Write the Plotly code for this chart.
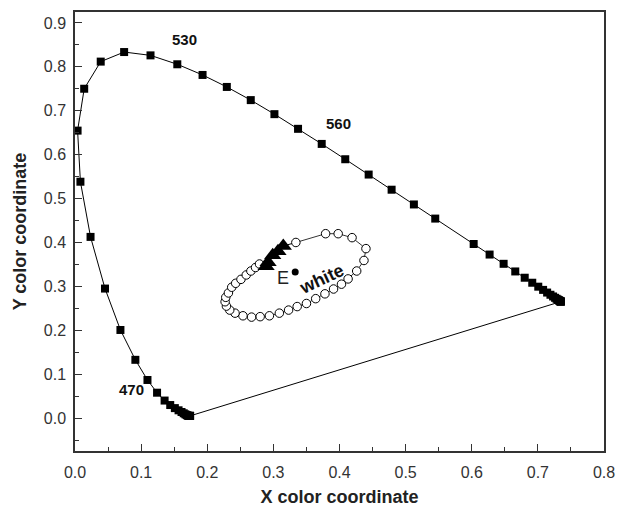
import plotly.graph_objects as go

# Spectral locus (CIE 1931), 380-700 nm in 5 nm steps (590 nm not shown)
locus_x = [0.1741, 0.1740, 0.1738, 0.1736, 0.1733, 0.1730, 0.1726, 0.1721, 0.1714,
           0.1703, 0.1689, 0.1669, 0.1644, 0.1611, 0.1566, 0.1510, 0.1440, 0.1355,
           0.1241, 0.1096, 0.0913, 0.0687, 0.0454, 0.0235, 0.0082, 0.0039, 0.0139,
           0.0389, 0.0743, 0.1142, 0.1547, 0.1929, 0.2296, 0.2658, 0.3016, 0.3373,
           0.3731, 0.4087, 0.4441, 0.4788, 0.5125, 0.5448, 0.6029, 0.6270,
           0.6482, 0.6658, 0.6801, 0.6915, 0.7006, 0.7079, 0.7140, 0.7190, 0.7230,
           0.7260, 0.7283, 0.7300, 0.7311, 0.7320, 0.7327, 0.7334, 0.7340, 0.7344,
           0.7346, 0.7347]
locus_y = [0.0050, 0.0050, 0.0049, 0.0049, 0.0048, 0.0048, 0.0048, 0.0048, 0.0051,
           0.0058, 0.0069, 0.0086, 0.0109, 0.0138, 0.0177, 0.0227, 0.0297, 0.0399,
           0.0578, 0.0868, 0.1327, 0.2007, 0.2950, 0.4127, 0.5384, 0.6548, 0.7502,
           0.8120, 0.8338, 0.8262, 0.8059, 0.7816, 0.7543, 0.7243, 0.6923, 0.6589,
           0.6245, 0.5896, 0.5547, 0.5202, 0.4866, 0.4544, 0.3965, 0.3725,
           0.3514, 0.3340, 0.3197, 0.3083, 0.2993, 0.2920, 0.2859, 0.2809, 0.2770,
           0.2740, 0.2717, 0.2700, 0.2689, 0.2680, 0.2673, 0.2666, 0.2660, 0.2656,
           0.2654, 0.2653]

# Measured chromaticity (open circles)
circ_x = [0.334, 0.379, 0.398, 0.419, 0.440, 0.437, 0.426, 0.413, 0.403, 0.391,
          0.378, 0.364, 0.350, 0.336, 0.323, 0.309, 0.294, 0.280, 0.267, 0.254,
          0.242, 0.234, 0.229, 0.227, 0.228, 0.232, 0.237, 0.243, 0.251, 0.259,
          0.266, 0.273, 0.279]
circ_y = [0.400, 0.420, 0.420, 0.411, 0.386, 0.359, 0.335, 0.317, 0.305, 0.294,
          0.283, 0.272, 0.261, 0.254, 0.246, 0.239, 0.233, 0.231, 0.230, 0.233,
          0.239, 0.246, 0.255, 0.265, 0.275, 0.285, 0.298, 0.307, 0.316, 0.326,
          0.335, 0.343, 0.351]

# Filled triangles
tri_x = [0.289, 0.292, 0.299, 0.307, 0.315]
tri_y = [0.346, 0.355, 0.371, 0.380, 0.392]

# Equal-energy white point
e_x = [0.333]
e_y = [0.333]

labels = ["530", "560", "470"]
label_x = [0.166, 0.398, 0.086]
label_y = [0.862, 0.672, 0.066]

fig = go.Figure()

# spectral locus
fig.add_trace(go.Scatter(x=locus_x, y=locus_y, mode="lines+markers",
                         line=dict(color="black", width=1),
                         marker=dict(symbol="square", size=8, color="black"),
                         showlegend=False))
# line of purples
fig.add_trace(go.Scatter(x=[locus_x[-1], locus_x[0]], y=[locus_y[-1], locus_y[0]],
                         mode="lines", line=dict(color="black", width=1),
                         showlegend=False))
# connection triangle -> circles
fig.add_trace(go.Scatter(x=[tri_x[-1], circ_x[0]], y=[tri_y[-1], circ_y[0]],
                         mode="lines", line=dict(color="black", width=1),
                         showlegend=False))
# circles
fig.add_trace(go.Scatter(x=circ_x, y=circ_y, mode="lines+markers",
                         line=dict(color="black", width=0.8),
                         marker=dict(symbol="circle", size=8.5, color="white",
                                     line=dict(color="black", width=1)),
                         showlegend=False))
# triangles
fig.add_trace(go.Scatter(x=tri_x, y=tri_y, mode="markers",
                         marker=dict(symbol="triangle-up", size=15, color="black"),
                         showlegend=False))
# E point
fig.add_trace(go.Scatter(x=e_x, y=e_y, mode="markers",
                         marker=dict(symbol="circle", size=7, color="black"),
                         showlegend=False))

for t, lx, ly in zip(labels, label_x, label_y):
    fig.add_annotation(x=lx, y=ly, text="<b>%s</b>" % t, showarrow=False,
                       font=dict(size=15, color="#111"))

fig.add_annotation(x=e_x[0] - 0.018, y=e_y[0] - 0.015, text="E", showarrow=False,
                   font=dict(size=18, color="#222"))
fig.add_annotation(x=0.373, y=0.317, text="<b>white</b>", showarrow=False,
                   textangle=-25, font=dict(size=18, color="#111"))

axis_common = dict(showgrid=False, zeroline=False, showline=True, mirror=True,
                   linecolor="#333", linewidth=1.5, ticks="inside", ticklen=7,
                   tickwidth=1.2, tickcolor="#333", automargin=False,
                   tickfont=dict(size=16, color="#333"),
                   minor=dict(ticks="inside", ticklen=4, dtick=0.05, tickcolor="#333"))

fig.update_xaxes(range=[0, 0.8], dtick=0.1, tickformat=".1f",
                 title=dict(text="<b>X color coordinate</b>", font=dict(size=18, color="#222"),
                            standoff=12),
                 ticklabelstandoff=6, **axis_common)
fig.update_yaxes(range=[-0.075, 0.925], dtick=0.1, tick0=0, tickformat=".1f",
                 title=dict(text="<b>Y color coordinate</b>", font=dict(size=18, color="#222"),
                            standoff=12),
                 ticklabelstandoff=4, **axis_common)

fig.update_layout(width=617, height=507, margin=dict(l=75, r=13, t=12, b=56, autoexpand=False),
                  paper_bgcolor="white", plot_bgcolor="white",
                  font=dict(family="Liberation Sans, Arial, sans-serif"))

fig.write_html("out.html")
